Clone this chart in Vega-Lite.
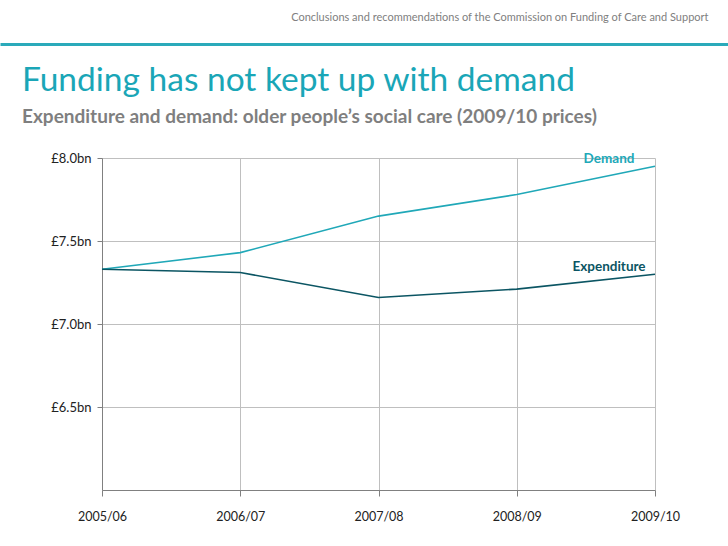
{
  "$schema": "https://vega.github.io/schema/vega-lite/v6.json",
  "autosize": "none",
  "width": 553,
  "height": 332,
  "padding": {"left": 102, "top": 158, "right": 73, "bottom": 56},
  "background": "white",
  "config": {
    "view": {"stroke": null},
    "font": "Lato",
    "axis": {"labelFont": "Lato", "titleFont": "Lato"}
  },
  "title": {
    "text": "Funding has not kept up with demand",
    "subtitle": "Expenditure and demand: older people’s social care (2009/10 prices)",
    "anchor": "start",
    "frame": "group",
    "dx": -80,
    "offset": -117,
    "font": "Lato",
    "fontSize": 33.5,
    "fontWeight": "normal",
    "color": "#1AA6B7",
    "subtitleFont": "Lato",
    "subtitleFontSize": 19,
    "subtitleFontWeight": "bold",
    "subtitleColor": "#7F7F7F",
    "subtitlePadding": 10
  },
  "data": {
    "values": [
      {"year": "2005/06", "series": "Demand", "value": 7.33},
      {"year": "2006/07", "series": "Demand", "value": 7.43},
      {"year": "2007/08", "series": "Demand", "value": 7.65},
      {"year": "2008/09", "series": "Demand", "value": 7.78},
      {"year": "2009/10", "series": "Demand", "value": 7.95},
      {"year": "2005/06", "series": "Expenditure", "value": 7.33},
      {"year": "2006/07", "series": "Expenditure", "value": 7.31},
      {"year": "2007/08", "series": "Expenditure", "value": 7.16},
      {"year": "2008/09", "series": "Expenditure", "value": 7.21},
      {"year": "2009/10", "series": "Expenditure", "value": 7.30}
    ]
  },
  "resolve": {"scale": {"x": "independent"}, "axis": {"x": "independent"}},
  "layer": [
    {
      "layer": [
        {
          "mark": {"type": "line", "strokeWidth": 1.6},
          "encoding": {
            "x": {
              "field": "year", "type": "ordinal",
              "scale": {"type": "point", "padding": 0},
              "axis": {
                "orient": "bottom",
                "title": null,
                "labelAngle": 0,
                "labelFontSize": 12.5,
                "labelColor": "#222222",
                "labelPadding": 14,
                "tickSize": 6,
                "tickColor": "#808080",
                "domainColor": "#808080",
                "grid": true,
                "gridColor": "#BFBFBF"
              }
            },
            "y": {
              "field": "value", "type": "quantitative",
              "scale": {"domain": [6.0, 8.0], "nice": false, "zero": false},
              "axis": {
                "title": null,
                "values": [6.5, 7.0, 7.5, 8.0],
                "labelExpr": "'£' + format(datum.value, '.1f') + 'bn'",
                "labelFontSize": 13,
                "labelColor": "#222222",
                "labelPadding": 6,
                "tickSize": 5,
                "tickColor": "#808080",
                "domainColor": "#808080",
                "grid": true,
                "gridColor": "#BFBFBF"
              }
            },
            "color": {
              "field": "series", "type": "nominal",
              "scale": {"domain": ["Demand", "Expenditure"], "range": ["#20A8B8", "#0B5563"]},
              "legend": null
            }
          }
        },
        {
          "transform": [{"filter": "datum.year == '2009/10'"}],
          "mark": {"type": "text", "fontWeight": "bold", "fontSize": 13.5, "align": "center", "baseline": "middle", "dx": -46, "dy": -7},
          "encoding": {
            "x": {"field": "year", "type": "ordinal"},
            "y": {"field": "value", "type": "quantitative"},
            "text": {"field": "series"},
            "color": {"field": "series", "type": "nominal", "legend": null}
          }
        }
      ]
    },
    {
      "mark": {"type": "rule", "opacity": 0},
      "encoding": {
        "x": {
          "datum": 0, "type": "quantitative",
          "scale": {"domain": [0, 1], "range": [-102, 626]},
          "axis": {
            "orient": "top",
            "offset": 114,
            "domain": true,
            "domainColor": "#2AAABA",
            "domainWidth": 3,
            "ticks": false,
            "labels": false,
            "grid": false,
            "title": "Conclusions and recommendations of the Commission on Funding of Care and Support",
            "titleFont": "Lato",
            "titleFontSize": 11,
            "titleFontWeight": "normal",
            "titleColor": "#808080",
            "titleX": 606,
            "titleY": -24,
            "titleAlign": "right",
            "titleBaseline": "alphabetic"
          }
        }
      }
    }
  ]
}
